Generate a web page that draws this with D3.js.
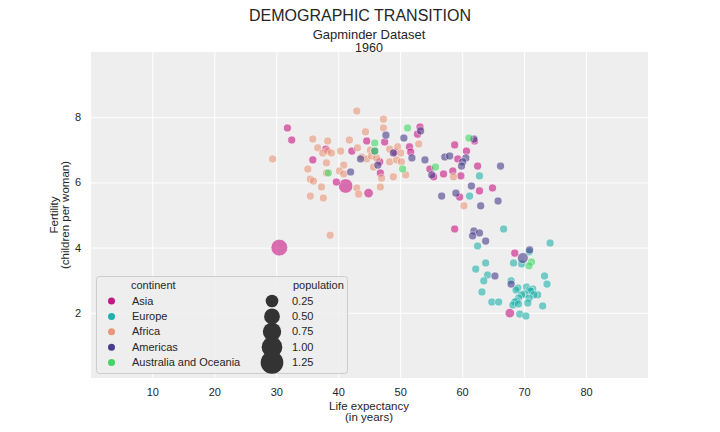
<!DOCTYPE html>
<html>
<head>
<meta charset="utf-8">
<style>
html, body { margin: 0; background: #fff; }
text { font-family: "Liberation Sans", Arial, sans-serif; fill: #262626; }
</style>
<script src="https://cdn.jsdelivr.net/npm/d3@7"></script>
</head>
<body>
<script>
'use strict';

// each row: life expectancy, fertility, population in billions (small countries omit it)
const asia = [[30.5,4.0,0.66],[41.2,5.89,0.45],[44.9,5.67,0.09],[67.7,1.99,0.09],[31.8,7.67],[32.5,7.3],[38,7.02],[42.2,6.96],[44.6,7.27],[47.5,7.24],[35.9,6.69],[46.7,6.63],[46.8,6.29],[39.7,6.01],[49.1,6.93],[51.5,7.09],[51.7,6.93],[53.2,7.7],[52.8,7.48],[58.8,7.15],[60.7,6.96],[62,7.27],[59.3,6.72],[62.5,6.5],[54.8,6.41],[55.4,6.17],[57,6.26],[58.5,6.35],[59.8,6.2],[62.8,5.74],[64.9,5.83],[59.6,5.55],[58.8,4.57],[68.5,3.83]];
const europe = [[62.8,6.2],[61.2,5.58],[66.7,4.57],[62.5,4.05],[74.2,4.14],[70.8,3.87],[68.3,3.53],[69.6,3.5],[63.8,3.53],[62.2,3.34],[64.1,3.16],[63.5,2.98],[63.2,2.64],[64.8,2.33],[65.9,2.33],[73.3,3.13],[73.7,2.88],[72.2,2.55],[73,2.21],[69.3,1.96],[70.3,1.9],[67.9,2.98],[69,2.76],[68.7,2.7],[70.4,2.79],[71.4,2.73],[70.9,2.7],[71.1,2.66],[70.1,2.58],[69.6,2.55],[71.6,2.55],[70.8,2.45],[69.1,2.45],[68.8,2.36],[68.5,2.33],[70.6,2.3],[68.2,2.24],[69.1,2.27]];
const africa = [[43,8.19],[47.3,7.94],[47.3,7.67],[44.4,7.55],[29.4,6.72],[35.9,7.33],[38.3,7.27],[41.8,7.3],[36.7,7.06],[37.5,6.9],[38.3,6.96],[38.9,6.9],[40.4,6.96],[43.1,7.06],[45.2,6.99],[43.8,6.78],[44.6,6.72],[45.4,6.81],[46.2,6.75],[48.3,7.02],[49.6,7.09],[50.1,6.9],[48.3,6.63],[49.4,6.69],[50.2,6.63],[50.9,6.23],[48.9,6.17],[45.7,6.47],[47,6.13],[38.1,6.6],[35.1,6.41],[40.9,6.53],[40.2,6.35],[40.9,6.26],[38.1,6.29],[35.5,6.1],[36,6.04],[37.3,5.86],[43,5.83],[46.8,5.86],[43.3,5.64],[35.5,5.58],[37.6,5.52],[53,7.18],[58.6,6.17],[60.3,5.28],[38.7,4.38]];
const americas = [[69.8,3.68,0.18],[43.6,6.72],[42,6.32],[47.7,7.45],[50.6,7.36],[48.9,6.9],[45.9,6.96],[46.4,6.53],[53.3,7.58],[51.9,6.75],[54,6.69],[57.2,6.78],[58,6.81],[60.6,6.75],[60.1,6.63],[59.9,6.5],[61.9,7.33],[66.2,6.5],[55.1,6.23],[56.7,5.58],[59,5.67],[61.5,5.89],[65.8,5.43],[63,5.28],[61.9,4.51],[62.8,4.45],[61.7,4.36],[63.8,4.2],[65.3,3.13],[70.9,3.93],[67.9,2.88]];
const oceania = [[38.4,6.29],[45.9,7.21],[50.4,6.41],[51.2,7.67],[55.7,6.47],[61.1,7.36],[45.9,6.96],[71.2,3.56],[70.8,3.44]];

const continents = ['Asia', 'Europe', 'Africa', 'Americas', 'Australia and Oceania'];
const continentRows = [asia, europe, africa, americas, oceania];
const continentColors = ['#c71585', '#20b2aa', '#e9967a', '#483d8b', '#3ed764'];
const sizeLegend = [0.25, 0.50, 0.75, 1.00, 1.25];
const xTicks = [10, 20, 30, 40, 50, 60, 70, 80];
const yTicks = [2, 4, 6, 8];

const width = 720, height = 432;
const plot = {left: 91, right: 648, top: 52, bottom: 378};

const svg = d3.select('body').append('svg')
    .attr('width', width)
    .attr('height', height)
    .style('display', 'block');

const x = d3.scaleLinear().domain([0.1, 90]).range([plot.left, plot.right]);
const y = d3.scaleLinear().domain([0, 10]).range([plot.bottom, plot.top]);
const color = d3.scaleOrdinal().domain(continents).range(continentColors);
// marker area grows linearly with population
const area = d3.scaleLinear().domain([0, 1.25]).range([72, 514]);
const radius = p => Math.sqrt(area(p)) / 2;

svg.append('rect')
    .attr('x', plot.left)
    .attr('y', plot.top)
    .attr('width', plot.right - plot.left)
    .attr('height', plot.bottom - plot.top)
    .attr('fill', '#eeeeee');

function styleAxis(g) {
    g.select('.domain').remove();
    g.selectAll('line').attr('stroke', '#fff').attr('stroke-width', 1);
    g.selectAll('text')
        .style('font-family', '"Liberation Sans", Arial, sans-serif')
        .style('font-size', '11px')
        .attr('fill', '#262626');
}

svg.append('g')
    .attr('transform', `translate(0,${plot.bottom})`)
    .call(d3.axisBottom(x).tickValues(xTicks).tickSize(plot.top - plot.bottom))
    .call(styleAxis)
    .selectAll('text').attr('y', 10).attr('dy', '0.71em');

svg.append('g')
    .attr('transform', `translate(${plot.left},0)`)
    .call(d3.axisLeft(y).tickValues(yTicks).tickSize(plot.left - plot.right))
    .call(styleAxis)
    .selectAll('text').attr('x', -10);

const points = continents.flatMap((name, i) =>
    continentRows[i].map(r => ({continent: name, life: r[0], fert: r[1], pop: r[2] || 0.01})));

svg.append('g').selectAll('circle')
    .data(points)
    .enter()
    .append('circle')
        .attr('cx', d => x(d.life))
        .attr('cy', d => y(d.fert))
        .attr('r', d => radius(d.pop) - 0.3)
        .attr('fill', d => color(d.continent))
        .attr('stroke', '#fff')
        .attr('stroke-width', 0.75)
        .attr('opacity', 0.6);

function label(text, px, py, size, anchor = 'middle') {
    return svg.append('text')
        .attr('x', px)
        .attr('y', py)
        .attr('text-anchor', anchor)
        .style('font-size', size + 'px')
        .text(text);
}

label('DEMOGRAPHIC TRANSITION', 360, 21, 16);
label('Gapminder Dataset', 369, 38.5, 13);
label('1960', 369, 51.5, 12.5);
label('Life expectancy', 369, 410, 11.5);
label('(in years)', 369, 421, 11.5);

[['Fertility', 58], ['(children per woman)', 69]].forEach(([t, px]) => {
    label(t, px, 215, 11.5).attr('transform', `rotate(-90,${px},215)`);
});

// legend
const legend = svg.append('g');
legend.append('rect')
    .attr('x', 96.5)
    .attr('y', 276.5)
    .attr('width', 251)
    .attr('height', 97)
    .attr('rx', 3)
    .attr('fill', '#eeeeee')
    .attr('fill-opacity', 0.8)
    .attr('stroke', '#cccccc');

const rowY = d3.scalePoint().domain(d3.range(5)).range([301, 362.5]);

label('continent', 131, 289, 11, 'start');
label('population', 293, 289, 11, 'start');

continents.forEach((name, i) => {
    legend.append('circle')
        .attr('cx', 111.5)
        .attr('cy', rowY(i))
        .attr('r', 3.5)
        .attr('fill', continentColors[i]);
    label(name, 132, rowY(i) + 3.5, 11, 'start');
});

sizeLegend.forEach((p, i) => {
    legend.append('circle')
        .attr('cx', 272)
        .attr('cy', rowY(i))
        .attr('r', radius(p))
        .attr('fill', '#333333');
    label(p.toFixed(2), 292, rowY(i) + 3.5, 11, 'start');
});
</script>
</body>
</html>
